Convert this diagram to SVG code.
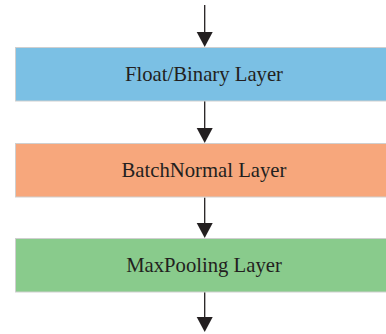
<svg xmlns="http://www.w3.org/2000/svg" width="386" height="334" viewBox="0 0 386 334">
<defs>
<style>
.box{stroke:#cfcfcf;stroke-width:1}
.lbl{font-family:"Liberation Serif","Times New Roman",serif;font-size:20.7px;fill:#231f20;text-anchor:middle}
.conn{stroke:#231f20;stroke-width:1.3;fill:none}
.head{fill:#231f20}
</style>
</defs>
<rect width="386" height="334" fill="#ffffff"/>
<g id="connectors">
<line class="conn" x1="204.7" y1="5" x2="204.7" y2="34"/>
<polygon class="head" points="196.7,32 212.7,32 204.7,47"/>
<line class="conn" x1="204.7" y1="101" x2="204.7" y2="130"/>
<polygon class="head" points="196.7,128 212.7,128 204.7,143"/>
<line class="conn" x1="204.7" y1="197.5" x2="204.7" y2="225"/>
<polygon class="head" points="196.7,223 212.7,223 204.7,238"/>
<line class="conn" x1="204.7" y1="292" x2="204.7" y2="319"/>
<polygon class="head" points="196.7,317 212.7,317 204.7,332"/>
</g>
<g id="float-binary">
<rect class="box" x="15.5" y="47.5" width="380" height="53.5" fill="#7bc0e4"/>
<text class="lbl" x="204" y="80.7">Float/Binary Layer</text>
</g>
<g id="batchnormal">
<rect class="box" x="15.5" y="143.5" width="380" height="53.5" fill="#f7a77c"/>
<text class="lbl" x="204" y="177">BatchNormal Layer</text>
</g>
<g id="maxpooling">
<rect class="box" x="15.5" y="238.5" width="380" height="53.5" fill="#89cb8c"/>
<text class="lbl" x="204" y="271.5">MaxPooling Layer</text>
</g>
</svg>
